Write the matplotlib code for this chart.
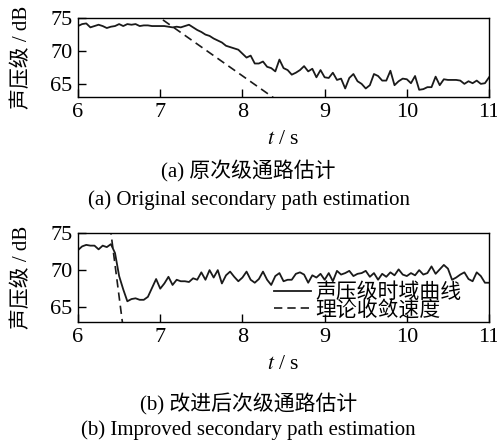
import numpy as np
import matplotlib
matplotlib.use("Agg")
import matplotlib.pyplot as plt

plt.rcParams['font.family'] = ['Liberation Serif', 'Noto Sans CJK SC']
plt.rcParams['mathtext.fontset'] = 'stix'

# time axis, 0.05 s step
t = np.round(np.arange(6.0, 11.0001, 0.05), 2)

# (a) original secondary path estimation
spl_a = [73.8, 74.1, 74.2, 73.6, 73.8, 74.0, 73.8, 73.5, 73.7, 73.8,
         74.1, 73.8, 74.1, 74.0, 74.1, 73.8, 73.9, 73.9, 73.8, 73.8,
         73.8, 73.8, 73.7, 73.6, 73.7, 73.6, 73.8, 74.0, 73.6, 73.2,
         72.9, 72.5, 72.3, 71.9, 71.6, 71.3, 70.8, 70.6, 70.4, 70.2,
         69.6, 69.0, 69.3, 68.1, 68.1, 68.4, 67.6, 67.4, 66.9, 68.7,
         67.4, 67.1, 66.4, 66.7, 67.1, 67.7, 66.9, 67.3, 66.0, 67.1,
         66.0, 65.9, 66.7, 65.6, 65.8, 64.3, 65.9, 66.5, 65.4, 65.0,
         64.3, 64.8, 66.5, 66.2, 65.5, 65.5, 67.0, 64.8, 65.4, 65.8,
         65.7, 65.1, 66.2, 64.1, 64.2, 64.5, 64.5, 66.1, 64.8, 65.7,
         65.6, 65.6, 65.6, 65.5, 65.0, 65.4, 65.1, 65.5, 65.0, 65.1,
         66.0]
theory_t_a = [6.9, 8.45]
theory_a = [75.9, 62.26]

# (b) improved secondary path estimation
spl_b = [72.7, 73.2, 73.4, 73.3, 73.3, 72.8, 73.3, 73.1, 73.5, 72.3,
         69.2, 67.4, 65.8, 66.1, 66.2, 66.0, 66.0, 66.4, 67.6, 68.8,
         67.5, 68.2, 69.1, 68.0, 68.7, 68.5, 68.5, 68.4, 68.9, 68.7,
         69.7, 68.7, 70.0, 69.0, 70.0, 68.2, 69.3, 69.8, 69.1, 68.5,
         69.0, 69.8, 68.7, 68.3, 68.8, 69.8, 68.7, 68.0, 69.2, 69.6,
         68.5, 68.7, 68.7, 69.5, 69.7, 69.4, 68.3, 69.3, 69.0, 69.5,
         68.7, 69.6, 68.5, 69.9, 69.4, 69.6, 69.9, 69.2, 69.5, 69.6,
         69.9, 69.1, 69.6, 68.7, 69.5, 69.1, 69.7, 69.3, 70.1, 69.4,
         69.2, 69.6, 69.3, 70.0, 69.4, 69.6, 70.5, 69.5, 70.1, 70.7,
         70.2, 68.7, 69.0, 69.4, 69.7, 68.8, 68.5, 69.7, 69.2, 68.3,
         68.3]
theory_t_b = [6.39, 6.55]
theory_b = [75.9, 62.1]

x_ticks = [6, 7, 8, 9, 10, 11]
y_ticks = [65, 70, 75]

fig = plt.figure(figsize=(4.97, 4.43), dpi=100)
ax_a = fig.add_axes([0.157, 0.781, 0.827, 0.178])
ax_b = fig.add_axes([0.157, 0.273, 0.827, 0.201])


def style_axis(ax):
    ax.set_xlim(6, 11)
    ax.set_ylim(63, 75)
    ax.set_xticks(x_ticks)
    ax.set_yticks(y_ticks)
    ax.tick_params(direction='in', length=6, width=1, labelsize=16,
                   pad=4, top=False, right=False)
    for sp in ax.spines.values():
        sp.set_linewidth(1.0)
    ax.set_xlabel(r'$t$ / s', fontsize=15.5, labelpad=6)
    ax.set_ylabel('声压级 / dB', fontsize=15, labelpad=13)


ax_a.plot(t, spl_a, color='#1a1a1a', lw=1.3, label='声压级时域曲线')
ax_a.plot(theory_t_a, theory_a, color='#1a1a1a', lw=1.2, ls=(0, (5, 3)),
          label='理论收敛速度')
style_axis(ax_a)

ax_b.plot(t, spl_b, color='#1a1a1a', lw=1.3, label='声压级时域曲线')
ax_b.plot(theory_t_b, theory_b, color='#1a1a1a', lw=1.2, ls=(0, (5, 3)),
          label='理论收敛速度')
style_axis(ax_b)
ax_b.legend(loc='lower right', bbox_to_anchor=(0.958, -0.1), frameon=False,
            fontsize=15, handlelength=1.8, handletextpad=0.2,
            labelspacing=-0.12, borderpad=0)

fig.text(0.5, 0.612, '(a) 原次级通路估计', ha='center', va='center', fontsize=15)
fig.text(0.5, 0.548, '(a) Original secondary path estimation', ha='center',
         va='center', fontsize=15)
fig.text(0.5, 0.086, '(b) 改进后次级通路估计', ha='center', va='center', fontsize=15)
fig.text(0.5, 0.029, '(b) Improved secondary path estimation', ha='center',
         va='center', fontsize=15)

fig.savefig('out.png', dpi=100)
